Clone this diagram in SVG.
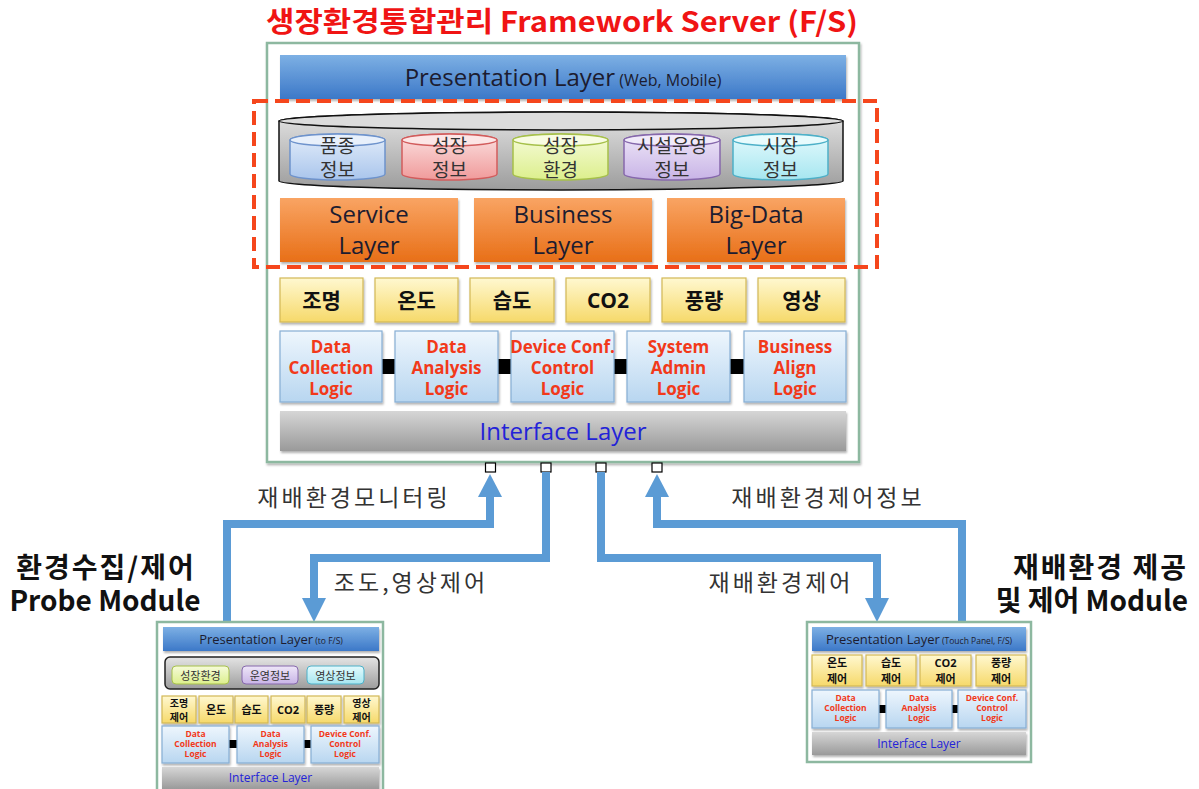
<svg xmlns="http://www.w3.org/2000/svg" width="1199" height="789" viewBox="0 0 1199 789">
  <defs>
    <linearGradient id="gBlue" x1="0" y1="0" x2="0" y2="1">
      <stop offset="0" stop-color="#7DB0E4"/>
      <stop offset="1" stop-color="#3C78C8"/>
    </linearGradient>
    <linearGradient id="gOrange" x1="0" y1="0" x2="0" y2="1">
      <stop offset="0" stop-color="#F9A463"/>
      <stop offset="1" stop-color="#E86F17"/>
    </linearGradient>
    <linearGradient id="gYellow" x1="0" y1="0" x2="0" y2="1">
      <stop offset="0" stop-color="#FFF8D0"/>
      <stop offset="1" stop-color="#F6D96A"/>
    </linearGradient>
    <linearGradient id="gLogic" x1="0" y1="0" x2="0" y2="1">
      <stop offset="0" stop-color="#EEF6FD"/>
      <stop offset="1" stop-color="#B8D6F0"/>
    </linearGradient>
    <linearGradient id="gGray" x1="0" y1="0" x2="0" y2="1">
      <stop offset="0" stop-color="#D6D6D6"/>
      <stop offset="1" stop-color="#9A9A9A"/>
    </linearGradient>
    <linearGradient id="gDrum" x1="0" y1="0" x2="0" y2="1">
      <stop offset="0" stop-color="#E4E4E4"/>
      <stop offset="1" stop-color="#9C9C9C"/>
    </linearGradient>
    <linearGradient id="cBlue" x1="0" y1="0" x2="0" y2="1">
      <stop offset="0" stop-color="#E3EDFA"/><stop offset="1" stop-color="#A9C5EC"/>
    </linearGradient>
    <linearGradient id="cRed" x1="0" y1="0" x2="0" y2="1">
      <stop offset="0" stop-color="#FBE0E0"/><stop offset="1" stop-color="#F09A9A"/>
    </linearGradient>
    <linearGradient id="cGreen" x1="0" y1="0" x2="0" y2="1">
      <stop offset="0" stop-color="#F6FBDA"/><stop offset="1" stop-color="#DCEF8C"/>
    </linearGradient>
    <linearGradient id="cPurple" x1="0" y1="0" x2="0" y2="1">
      <stop offset="0" stop-color="#EEE6F8"/><stop offset="1" stop-color="#C8B4E6"/>
    </linearGradient>
    <linearGradient id="cCyan" x1="0" y1="0" x2="0" y2="1">
      <stop offset="0" stop-color="#E4FAFD"/><stop offset="1" stop-color="#A6E6F0"/>
    </linearGradient>
    <filter id="shadow" x="-10%" y="-20%" width="120%" height="150%">
      <feDropShadow dx="1" dy="2" stdDeviation="1.2" flood-color="#000" flood-opacity="0.3"/>
    </filter>
    <style>
      .frame { fill: #FFFFFF; stroke: #8DB8A0; stroke-width: 2.5; }
      .bar { fill: url(#gBlue); filter: url(#shadow); }
      .orange { fill: url(#gOrange); filter: url(#shadow); }
      .sensor { fill: url(#gYellow); stroke: #D2B856; stroke-width: 1.2; filter: url(#shadow); }
      .logic { fill: url(#gLogic); stroke: #86AED4; stroke-width: 1.2; filter: url(#shadow); }
      .iface { fill: url(#gGray); filter: url(#shadow); }
      .link { fill: #000000; }
      .port { fill: #FFFFFF; stroke: #000000; stroke-width: 1.2; }
      .flow { fill: none; stroke: #5B9BD5; stroke-width: 8; }
      .head { fill: #5B9BD5; }
      text { font-family: "Open Sans", "Noto Sans CJK KR", sans-serif; text-anchor: middle; }
      .kr { font-family: "Noto Sans CJK KR", sans-serif; }
      .title { font-size: 28px; font-weight: bold; fill: #F01414; }
      .lyr { font-size: 24px; fill: #1C1C30; }
      .lyrS { font-size: 16px; fill: #1C1C30; }
      .db { font-size: 19px; fill: #333333; }
      .sen { font-size: 21px; font-weight: bold; fill: #111111; }
      .lg { font-size: 17px; font-weight: bold; fill: #F2391A; }
      .if { font-size: 24px; fill: #2323D8; }
      .lbl { font-size: 23px; fill: #333333; letter-spacing: 3px; }
      .side { font-size: 28px; font-weight: bold; fill: #111111; }
      .sideK { letter-spacing: 2px; }
      .mBar { font-size: 13px; fill: #1C1C30; }
      .mBarS { font-size: 8.5px; fill: #1C1C30; }
      .mDb { font-size: 11px; fill: #333333; }
      .mSen { font-size: 11px; font-weight: bold; fill: #111111; }
      .mSen2 { font-size: 10px; font-weight: bold; fill: #111111; }
      .mLg { font-size: 8.5px; font-weight: bold; fill: #F2391A; }
      .mIf { font-size: 12px; fill: #2323D8; }
    </style>
  </defs>

  <rect width="1199" height="789" fill="#FFFFFF"/>

  <!-- Framework server -->
  <g id="fs-server">
    <text class="title kr" x="562" y="32" textLength="592" lengthAdjust="spacingAndGlyphs">생장환경통합관리 Framework Server (F/S)</text>
    <rect class="frame" x="267" y="43" width="592" height="419" filter="url(#shadow)"/>
    <g id="fs-presentation">
      <rect class="bar" x="280" y="55" width="566" height="44"/>
      <text x="563" y="86"><tspan class="lyr">Presentation Layer</tspan><tspan class="lyrS"> (Web, Mobile)</tspan></text>
    </g>
    <g id="fs-data">
      <path d="M279,121 A282,9 0 0 1 843,121 V181 A282,9 0 0 1 279,181 Z" fill="url(#gDrum)" stroke="#111" stroke-width="1.5"/>
      <ellipse cx="561" cy="121" rx="282" ry="9" fill="#DCDCDC" stroke="#111" stroke-width="1.5"/>
      <g id="db-variety">
        <path d="M290,140 A47.5,6 0 0 1 385,140 V174 A47.5,6 0 0 1 290,174 Z" fill="url(#cBlue)" stroke="#6E93CC" stroke-width="1.5"/>
        <ellipse cx="337.5" cy="140" rx="47.5" ry="6" fill="#E8F0FB" stroke="#6E93CC" stroke-width="1.5"/>
        <text class="db kr"><tspan x="337.5" y="153">품종</tspan><tspan x="337.5" y="177">정보</tspan></text>
      </g>
      <g id="db-growth">
        <path d="M402,140 A47.5,6 0 0 1 497,140 V174 A47.5,6 0 0 1 402,174 Z" fill="url(#cRed)" stroke="#D25C5C" stroke-width="1.5"/>
        <ellipse cx="449.5" cy="140" rx="47.5" ry="6" fill="#FCE6E6" stroke="#D25C5C" stroke-width="1.5"/>
        <text class="db kr"><tspan x="449.5" y="153">성장</tspan><tspan x="449.5" y="177">정보</tspan></text>
      </g>
      <g id="db-env">
        <path d="M513,140 A47.5,6 0 0 1 608,140 V174 A47.5,6 0 0 1 513,174 Z" fill="url(#cGreen)" stroke="#A6C04A" stroke-width="1.5"/>
        <ellipse cx="560.5" cy="140" rx="47.5" ry="6" fill="#F8FCE2" stroke="#A6C04A" stroke-width="1.5"/>
        <text class="db kr"><tspan x="560.5" y="153">성장</tspan><tspan x="560.5" y="177">환경</tspan></text>
      </g>
      <g id="db-facility">
        <path d="M624,140 A48,6 0 0 1 720,140 V174 A48,6 0 0 1 624,174 Z" fill="url(#cPurple)" stroke="#8668AC" stroke-width="1.5"/>
        <ellipse cx="672" cy="140" rx="48" ry="6" fill="#F1EAFA" stroke="#8668AC" stroke-width="1.5"/>
        <text class="db kr"><tspan x="672" y="153">시설운영</tspan><tspan x="672" y="177">정보</tspan></text>
      </g>
      <g id="db-market">
        <path d="M733,140 A47.5,6 0 0 1 828,140 V174 A47.5,6 0 0 1 733,174 Z" fill="url(#cCyan)" stroke="#4DB0C8" stroke-width="1.5"/>
        <ellipse cx="780.5" cy="140" rx="47.5" ry="6" fill="#E8FBFD" stroke="#4DB0C8" stroke-width="1.5"/>
        <text class="db kr"><tspan x="780.5" y="153">시장</tspan><tspan x="780.5" y="177">정보</tspan></text>
      </g>
    </g>
    <g id="fs-service">
      <rect class="orange" x="280" y="198" width="178" height="64"/>
      <text class="lyr"><tspan x="369" y="223">Service</tspan><tspan x="369" y="254">Layer</tspan></text>
    </g>
    <g id="fs-business">
      <rect class="orange" x="474" y="198" width="178" height="64"/>
      <text class="lyr"><tspan x="563" y="223">Business</tspan><tspan x="563" y="254">Layer</tspan></text>
    </g>
    <g id="fs-bigdata">
      <rect class="orange" x="667" y="198" width="178" height="64"/>
      <text class="lyr"><tspan x="756" y="223">Big-Data</tspan><tspan x="756" y="254">Layer</tspan></text>
    </g>
    <rect x="254" y="101" width="623" height="166" fill="none" stroke="#F5461C" stroke-width="4" stroke-dasharray="14 7"/>
    <g id="fs-sensors">
      <rect class="sensor" x="280" y="278" width="83" height="44"/>
      <text class="sen kr" x="321.5" y="308">조명</text>
      <rect class="sensor" x="375" y="278" width="83" height="44"/>
      <text class="sen kr" x="416.5" y="308">온도</text>
      <rect class="sensor" x="470" y="278" width="84" height="44"/>
      <text class="sen kr" x="512" y="308">습도</text>
      <rect class="sensor" x="566" y="278" width="84" height="44"/>
      <text class="sen" x="608" y="308">CO2</text>
      <rect class="sensor" x="662" y="278" width="84" height="44"/>
      <text class="sen kr" x="704" y="308">풍량</text>
      <rect class="sensor" x="758" y="278" width="87" height="44"/>
      <text class="sen kr" x="801.5" y="308">영상</text>
    </g>
    <g id="fs-logic">
      <rect class="link" x="381" y="359" width="15" height="15"/>
      <rect class="link" x="497" y="359" width="15" height="15"/>
      <rect class="link" x="613" y="359" width="15" height="15"/>
      <rect class="link" x="729" y="359" width="16" height="15"/>
      <rect class="logic" x="280" y="331" width="102" height="71"/>
      <text class="lg"><tspan x="331" y="353">Data</tspan><tspan x="331" y="374">Collection</tspan><tspan x="331" y="395">Logic</tspan></text>
      <rect class="logic" x="395" y="331" width="103" height="71"/>
      <text class="lg"><tspan x="446.5" y="353">Data</tspan><tspan x="446.5" y="374">Analysis</tspan><tspan x="446.5" y="395">Logic</tspan></text>
      <rect class="logic" x="511" y="331" width="103" height="71"/>
      <text class="lg"><tspan x="562.5" y="353">Device Conf.</tspan><tspan x="562.5" y="374">Control</tspan><tspan x="562.5" y="395">Logic</tspan></text>
      <rect class="logic" x="627" y="331" width="103" height="71"/>
      <text class="lg"><tspan x="678.5" y="353">System</tspan><tspan x="678.5" y="374">Admin</tspan><tspan x="678.5" y="395">Logic</tspan></text>
      <rect class="logic" x="744" y="331" width="102" height="71"/>
      <text class="lg"><tspan x="795" y="353">Business</tspan><tspan x="795" y="374">Align</tspan><tspan x="795" y="395">Logic</tspan></text>
    </g>
    <g id="fs-interface">
      <rect class="iface" x="280" y="411" width="566" height="40"/>
      <text class="if" x="563" y="440">Interface Layer</text>
    </g>
    <g id="fs-ports">
      <rect class="port" x="485.5" y="463" width="10" height="9"/>
      <rect class="port" x="541" y="463" width="10" height="9"/>
      <rect class="port" x="596" y="463" width="10" height="9"/>
      <rect class="port" x="652" y="463" width="10" height="9"/>
    </g>
  </g>

  <!-- Data flows between server and modules -->
  <g id="connectors">
    <g id="flow-monitoring">
      <path class="flow" d="M227,622 V524 H490 V496"/>
      <polygon class="head" points="490,474 478,497 502,497"/>
      <text class="lbl kr" x="354" y="506">재배환경모니터링</text>
    </g>
    <g id="flow-light-video">
      <path class="flow" d="M546,472 V558 H314 V599"/>
      <polygon class="head" points="314,622 302,598 326,598"/>
      <text class="lbl kr" x="411" y="591">조도,영상제어</text>
    </g>
    <g id="flow-control">
      <path class="flow" d="M601,472 V558 H877 V599"/>
      <polygon class="head" points="877,622 865,598 889,598"/>
      <text class="lbl kr" x="781" y="591">재배환경제어</text>
    </g>
    <g id="flow-control-info">
      <path class="flow" d="M962,622 V524 H657 V496"/>
      <polygon class="head" points="657,474 645,497 669,497"/>
      <text class="lbl kr" x="828" y="506">재배환경제어정보</text>
    </g>
  </g>

  <!-- Probe module -->
  <g id="probe-module">
    <text class="side kr"><tspan class="sideK" x="106" y="578">환경수집/제어</tspan><tspan x="105" y="611">Probe Module</tspan></text>
    <rect class="frame" x="157" y="622" width="226" height="172" stroke-width="1.5"/>
    <rect class="bar" x="163" y="627" width="216" height="24"/>
    <text x="271" y="644"><tspan class="mBar">Presentation Layer</tspan><tspan class="mBarS"> (to F/S)</tspan></text>
    <rect x="165" y="657" width="214" height="32" rx="5" fill="url(#gDrum)" stroke="#222" stroke-width="1.5"/>
    <rect x="172" y="666" width="57" height="18" rx="4" fill="url(#cGreen)" stroke="#A6C04A"/>
    <text class="mDb kr" x="200.5" y="679.5">성장환경</text>
    <rect x="242" y="666" width="56" height="18" rx="4" fill="url(#cPurple)" stroke="#8668AC"/>
    <text class="mDb kr" x="270" y="679.5">운영정보</text>
    <rect x="307" y="666" width="57" height="18" rx="4" fill="url(#cCyan)" stroke="#4DB0C8"/>
    <text class="mDb kr" x="335.5" y="679.5">영상정보</text>
    <rect class="sensor" x="162" y="696" width="34" height="27" stroke-width="0.8"/>
    <text class="mSen2 kr"><tspan x="179" y="706.5">조명</tspan><tspan x="179" y="721">제어</tspan></text>
    <rect class="sensor" x="199" y="696" width="34" height="27" stroke-width="0.8"/>
    <text class="mSen kr" x="216" y="714">온도</text>
    <rect class="sensor" x="235" y="696" width="33" height="27" stroke-width="0.8"/>
    <text class="mSen kr" x="251.5" y="714">습도</text>
    <rect class="sensor" x="271" y="696" width="34" height="27" stroke-width="0.8"/>
    <text class="mSen" x="288" y="714">CO2</text>
    <rect class="sensor" x="307" y="696" width="34" height="27" stroke-width="0.8"/>
    <text class="mSen kr" x="324" y="714">풍량</text>
    <rect class="sensor" x="344" y="696" width="35" height="27" stroke-width="0.8"/>
    <text class="mSen2 kr"><tspan x="361.5" y="706.5">영상</tspan><tspan x="361.5" y="721">제어</tspan></text>
    <rect class="link" x="229" y="740" width="8" height="8"/>
    <rect class="link" x="304" y="740" width="7" height="8"/>
    <rect class="logic" x="162" y="726" width="67" height="37" stroke-width="0.8"/>
    <text class="mLg"><tspan x="195.5" y="737">Data</tspan><tspan x="195.5" y="747">Collection</tspan><tspan x="195.5" y="757">Logic</tspan></text>
    <rect class="logic" x="237" y="726" width="67" height="37" stroke-width="0.8"/>
    <text class="mLg"><tspan x="270.5" y="737">Data</tspan><tspan x="270.5" y="747">Analysis</tspan><tspan x="270.5" y="757">Logic</tspan></text>
    <rect class="logic" x="311" y="726" width="68" height="37" stroke-width="0.8"/>
    <text class="mLg"><tspan x="345" y="737">Device Conf.</tspan><tspan x="345" y="747">Control</tspan><tspan x="345" y="757">Logic</tspan></text>
    <rect class="iface" x="162" y="767" width="217" height="22"/>
    <text class="mIf" x="270.5" y="782">Interface Layer</text>
  </g>

  <!-- Cultivation environment module -->
  <g id="cultivation-module">
    <text class="side kr" style="text-anchor:end"><tspan class="sideK" x="1188" y="578">재배환경 제공</tspan><tspan x="1188" y="611">및 제어 Module</tspan></text>
    <rect class="frame" x="807" y="622" width="224" height="140" stroke-width="1.5"/>
    <rect class="bar" x="812" y="627" width="214" height="24"/>
    <text x="919" y="644"><tspan class="mBar">Presentation Layer</tspan><tspan class="mBarS"> (Touch Panel, F/S)</tspan></text>
    <rect class="sensor" x="812" y="655" width="50" height="31" stroke-width="0.8"/>
    <text class="mSen kr"><tspan x="837" y="667">온도</tspan><tspan x="837" y="683">제어</tspan></text>
    <rect class="sensor" x="866" y="655" width="50" height="31" stroke-width="0.8"/>
    <text class="mSen kr"><tspan x="891" y="667">습도</tspan><tspan x="891" y="683">제어</tspan></text>
    <rect class="sensor" x="920" y="655" width="51" height="31" stroke-width="0.8"/>
    <text class="mSen"><tspan x="945.5" y="667">CO2</tspan><tspan x="945.5" y="683" class="kr">제어</tspan></text>
    <rect class="sensor" x="976" y="655" width="50" height="31" stroke-width="0.8"/>
    <text class="mSen kr"><tspan x="1001" y="667">풍량</tspan><tspan x="1001" y="683">제어</tspan></text>
    <rect class="link" x="879" y="705" width="7" height="8"/>
    <rect class="link" x="952" y="705" width="6" height="8"/>
    <rect class="logic" x="812" y="690" width="67" height="38" stroke-width="0.8"/>
    <text class="mLg"><tspan x="845.5" y="701">Data</tspan><tspan x="845.5" y="711">Collection</tspan><tspan x="845.5" y="721">Logic</tspan></text>
    <rect class="logic" x="886" y="690" width="66" height="38" stroke-width="0.8"/>
    <text class="mLg"><tspan x="919" y="701">Data</tspan><tspan x="919" y="711">Analysis</tspan><tspan x="919" y="721">Logic</tspan></text>
    <rect class="logic" x="958" y="690" width="68" height="38" stroke-width="0.8"/>
    <text class="mLg"><tspan x="992" y="701">Device Conf.</tspan><tspan x="992" y="711">Control</tspan><tspan x="992" y="721">Logic</tspan></text>
    <rect class="iface" x="812" y="732" width="214" height="23"/>
    <text class="mIf" x="919" y="748">Interface Layer</text>
  </g>
</svg>
